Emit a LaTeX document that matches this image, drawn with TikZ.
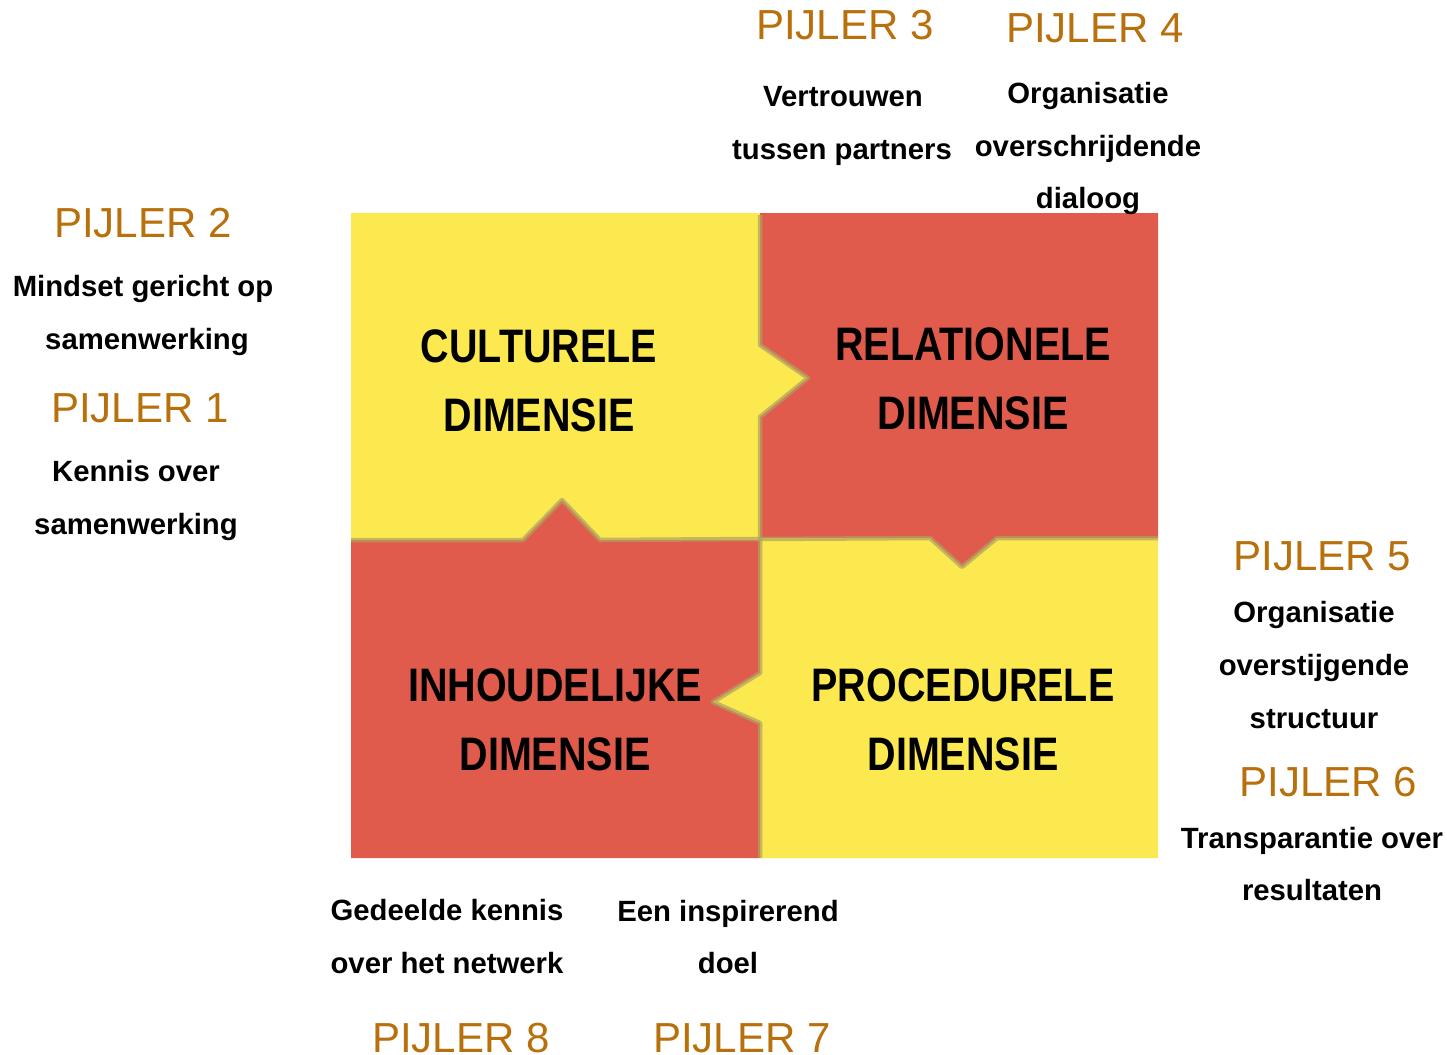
\documentclass[tikz,border=0pt]{standalone}
\usepackage{fontspec}
\usepackage{graphicx}
\setmainfont{Liberation Sans}
\definecolor{pyellow}{HTML}{FBE94F}
\definecolor{pred}{HTML}{E05B4B}
\definecolor{pijl}{HTML}{B8700C}
\definecolor{seam}{HTML}{B0A060}
\begin{document}
\begin{tikzpicture}[x=1pt,y=-1pt,
  pijler/.style={inner sep=0pt, text height=30pt, text depth=0pt, text=pijl, font=\fontsize{42}{48}\selectfont},
  lbl/.style={inner sep=0pt, text height=21pt, text depth=0pt, font=\bfseries\fontsize{29.3}{34}\selectfont},
  dim/.style={inner sep=0pt, text height=34pt, text depth=0pt, font=\bfseries\fontsize{47}{52}\selectfont},
  seamline/.style={draw=seam, line width=4.5pt, opacity=0.7, line join=round}]
\useasboundingbox (0,0) rectangle (1447,1054);
% puzzle pieces
\fill[pyellow] (351,213) -- (760,213) -- (760,345) -- (808,378) -- (760,417) -- (760,540) -- (600,540) -- (562,500) -- (523,540) -- (351,540) -- cycle;
\fill[pred] (760,213) -- (1158,213) -- (1158,538) -- (997,538) -- (962,567) -- (930,538) -- (760,538) -- (760,417) -- (808,378) -- (760,345) -- cycle;
\fill[pred] (351,540) -- (523,540) -- (562,500) -- (600,540) -- (760,540) -- (760,673) -- (713,702) -- (760,723) -- (760,858) -- (351,858) -- cycle;
\fill[pyellow] (760,538) -- (930,538) -- (962,567) -- (997,538) -- (1158,538) -- (1158,858) -- (760,858) -- (760,723) -- (713,702) -- (760,673) -- cycle;
% seams
\draw[seamline] (760,215) -- (760,345) -- (808,378) -- (760,417) -- (760,673) -- (713,702) -- (760,723) -- (760,858);
\draw[seamline] (351,540) -- (523,540) -- (562,500) -- (600,540) -- (760,539) -- (930,538) -- (962,567) -- (997,538) -- (1158,538);
% dimension labels
\node[dim] (cul1) at (539,345) {\scalebox{0.84}[1]{CULTURELE}};
\node[dim] (cul2) at (539,414) {\scalebox{0.84}[1]{DIMENSIE}};
\node[dim] (rel1) at (973,343) {\scalebox{0.84}[1]{RELATIONELE}};
\node[dim] (rel2) at (973,412) {\scalebox{0.84}[1]{DIMENSIE}};
\node[dim] (inh1) at (555,684) {\scalebox{0.84}[1]{INHOUDELIJKE}};
\node[dim] (inh2) at (555,753) {\scalebox{0.84}[1]{DIMENSIE}};
\node[dim] (pro1) at (963,684) {\scalebox{0.84}[1]{PROCEDURELE}};
\node[dim] (pro2) at (963,753) {\scalebox{0.84}[1]{DIMENSIE}};
% pijlers
\node[pijler] (p2) at (143,222) {PIJLER 2};
\node[lbl] (p2a) at (143,286) {Mindset gericht op};
\node[lbl] (p2b) at (147,339) {samenwerking};
\node[pijler] (p1) at (140,407) {PIJLER 1};
\node[lbl] (p1a) at (136,471) {Kennis over};
\node[lbl] (p1b) at (136,524) {samenwerking};
\node[pijler] (p3) at (845,25) {PIJLER 3};
\node[lbl] (p3a) at (843,96) {Vertrouwen};
\node[lbl] (p3b) at (842,149) {tussen partners};
\node[pijler] (p4) at (1095,28) {PIJLER 4};
\node[lbl] (p4a) at (1088,93) {Organisatie};
\node[lbl] (p4b) at (1088,146) {overschrijdende};
\node[lbl] (p4c) at (1088,198) {dialoog};
\node[pijler] (p5) at (1322,555) {PIJLER 5};
\node[lbl] (p5a) at (1314,612) {Organisatie};
\node[lbl] (p5b) at (1314,665) {overstijgende};
\node[lbl] (p5c) at (1314,718) {structuur};
\node[pijler] (p6) at (1328,781) {PIJLER 6};
\node[lbl] (p6a) at (1312,838) {Transparantie over};
\node[lbl] (p6b) at (1312,890) {resultaten};
\node[lbl] (p8a) at (447,910) {Gedeelde kennis};
\node[lbl] (p8b) at (447,963) {over het netwerk};
\node[lbl] (p7a) at (728,911) {Een inspirerend};
\node[lbl] (p7b) at (728,963) {doel};
\node[pijler] (p8) at (461,1037) {PIJLER 8};
\node[pijler] (p7) at (742,1037) {PIJLER 7};
\end{tikzpicture}
\end{document}
